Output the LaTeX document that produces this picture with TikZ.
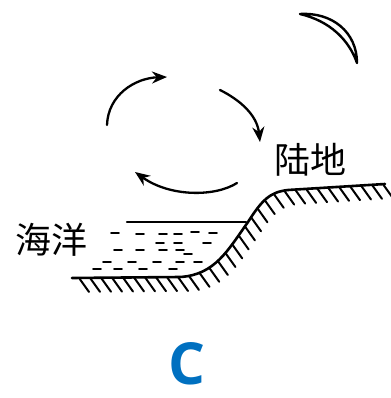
\documentclass[tikz,border=0pt]{standalone}
\usepackage{fontspec}
\newfontfamily\cjk{Noto Sans CJK SC}
\newfontfamily\panelfont{Open Sans}
\usetikzlibrary{arrows.meta, decorations.markings}
\definecolor{PanelBlue}{HTML}{0070C0}

\tikzset{
  wind/.style={line width=2.3pt, -{Stealth[length=15pt, width=12pt]}},
  hatched/.style={line width=2.6pt, postaction={decorate},
    decoration={markings, mark=between positions 0.02 and 1 step 11pt with
      {\pgftransformresetnontranslations \draw[line width=2pt] (0,0) -- (10,14);}}},
  ripple/.style={line width=1.8pt},
  bigtext/.style={font=\cjk\fontsize{36}{36}\selectfont, inner sep=0pt}
}

\begin{document}
\begin{tikzpicture}[x=1pt, y=-1pt, line cap=round, line join=round]
  \useasboundingbox (0,0) rectangle (390,398);

  % ground: sea floor, shore slope and land
  \draw[hatched] (72,278) -- (180,277) .. controls (215,275) and (228,250) .. (248,222)
    .. controls (262,200) and (270,192) .. (288,190) -- (385,184);

  % sea surface and water
  \draw[line width=2.3pt] (127,222) -- (246,222);
  \foreach \x/\y in {115/233, 140/234, 163/234, 178/234, 195/232, 213/233,
                     160/243, 178/243, 207/243,
                     118/250, 140/250, 163/250, 180/250, 188/254,
                     107/262, 132/262, 157/262, 180/262, 198/262,
                     97/269, 118/269, 143/269, 173/269}
    \draw[ripple] (\x-4,\y) -- (\x+4,\y);

  % circulation
  \draw[wind] (107,125) .. controls (108,95) and (135,78) .. (167,77);
  \draw[wind] (220,90) .. controls (240,100) and (257,115) .. (260,142);
  \draw[wind] (237,183) .. controls (215,197) and (170,197) .. (135,172);

  % moon
  \draw[line width=2.4pt] (300,14) .. controls (332,12) and (357,32) .. (357,63)
    .. controls (349,40) and (330,21) .. (300,14) -- cycle;

  \node[bigtext] (ocean) at (51,240) {海洋};
  \node[bigtext] (land) at (310,160) {陆地};

  \node[font=\panelfont\bfseries\fontsize{58}{58}\selectfont, text=PanelBlue, inner sep=0pt]
    (panel) at (187,364) {C};
\end{tikzpicture}
\end{document}
